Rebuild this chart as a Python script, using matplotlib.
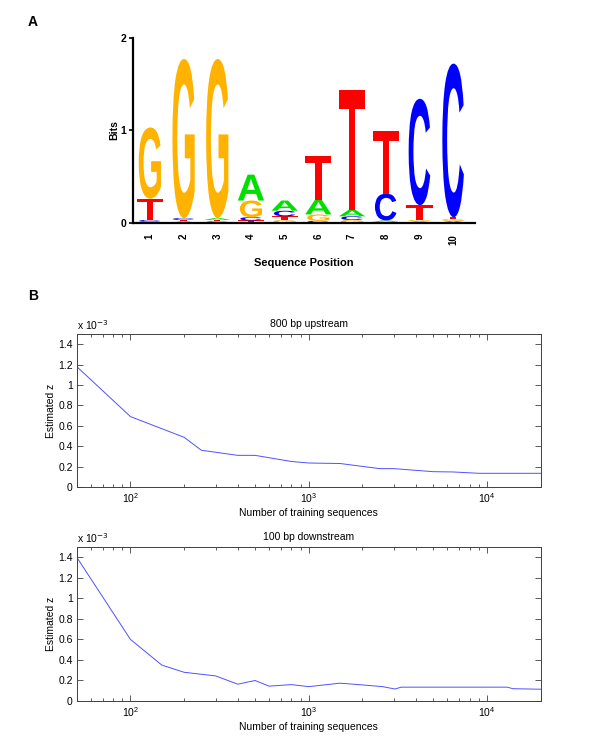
import numpy as np
import matplotlib
matplotlib.use('Agg')
import matplotlib.pyplot as plt
from matplotlib.textpath import TextPath
from matplotlib.patches import PathPatch
from matplotlib.font_manager import FontProperties
import matplotlib.transforms as mtransforms
from matplotlib.ticker import LogLocator, NullFormatter

plt.rcParams['font.family'] = ['Liberation Sans', 'DejaVu Sans']

# ---- sequence logo data (bits per letter, each position) ----
positions = np.arange(1, 11)
bits_A = [0.010, 0.015, 0.020, 0.280, 0.110, 0.160, 0.070, 0.015, 0.015, 0.020]
bits_C = [0.020, 0.020, 0.015, 0.035, 0.060, 0.020, 0.040, 0.290, 1.150, 1.660]
bits_G = [0.770, 1.720, 1.720, 0.180, 0.030, 0.070, 0.030, 0.010, 0.015, 0.020]
bits_T = [0.230, 0.015, 0.015, 0.025, 0.040, 0.470, 1.300, 0.680, 0.160, 0.020]

# ---- z estimates vs number of training sequences (x 1e-3) ----
up_n = [50, 100, 200, 250, 400, 500, 800, 1000, 1500, 2500, 3000, 4000, 5000, 6500, 9000, 20000]
up_z = [1.18, 0.69, 0.487, 0.36, 0.31, 0.31, 0.25, 0.235, 0.23, 0.18, 0.18, 0.163, 0.15, 0.147, 0.134, 0.134]

down_n = [50, 100, 150, 200, 300, 400, 500, 600, 800, 1000, 1500, 2000, 2600, 3050, 3300, 13000, 14000, 20000]
down_z = [1.40, 0.60, 0.35, 0.28, 0.245, 0.164, 0.20, 0.145, 0.16, 0.14, 0.174, 0.157, 0.14, 0.117, 0.135, 0.135, 0.12, 0.115]

colors = {'A': '#00e000', 'C': '#0000ff', 'G': '#ffb300', 'T': '#ff0000'}
widths = {'A': 0.78, 'C': 0.64, 'G': 0.66, 'T': 0.78}
fp = FontProperties(family='Liberation Sans', weight='bold')


def draw_letter(ax, ch, x, y, h):
    tp = TextPath((0, 0), ch, size=1, prop=fp)
    bb = tp.get_extents()
    w = widths[ch]
    tr = mtransforms.Affine2D().translate(-bb.x0, -bb.y0) \
        .scale(w / bb.width, h / bb.height).translate(x - w / 2, y)
    ax.add_patch(PathPatch(tr.transform_path(tp), fc=colors[ch], ec='none', lw=0))


fig = plt.figure(figsize=(6, 7.5), dpi=100)

# ===== A: logo =====
ax1 = fig.add_axes([0.2217, 0.703, 0.57, 0.2467])
for i, p in enumerate(positions):
    stack = sorted([('A', bits_A[i]), ('C', bits_C[i]), ('G', bits_G[i]), ('T', bits_T[i])],
                   key=lambda t: t[1])
    y0 = 0.0
    for ch, h in stack:
        draw_letter(ax1, ch, p, y0, h)
        y0 += h
ax1.set_xlim(0.5, 10.65)
ax1.set_ylim(0, 2)
ax1.set_yticks([0, 1, 2])
ax1.set_xticks(positions)
ax1.set_xticklabels([str(p) for p in positions], rotation=90, fontweight='bold', fontsize=7)
ax1.set_yticklabels(['0', '1', '2'], fontweight='bold', fontsize=7.5)
ax1.tick_params(axis='x', length=0, pad=8)
ax1.tick_params(axis='y', length=3, width=1.2, pad=2)
for s in ['top', 'right']:
    ax1.spines[s].set_visible(False)
for s in ['left', 'bottom']:
    ax1.spines[s].set_linewidth(1.6)
ax1.set_ylabel('Bits', fontweight='bold', fontsize=7.5, labelpad=1)
ax1.set_xlabel('Sequence Position', fontweight='bold', fontsize=8, labelpad=10)

fig.text(0.055, 0.971, 'A', fontweight='bold', fontsize=10, ha='center', va='center')
fig.text(0.055, 0.605, 'B', fontweight='bold', fontsize=10, ha='center', va='center')

# ===== B: two line plots =====
def line_panel(rect, n, z, title):
    ax = fig.add_axes(rect)
    ax.plot(n, z, color='#5050ff', lw=0.7)
    ax.set_xscale('log')
    ax.set_xlim(50, 20000)
    ax.set_ylim(0, 1.5)
    ax.set_yticks([0, 0.2, 0.4, 0.6, 0.8, 1.0, 1.2, 1.4])
    ax.set_yticklabels(['0', '0.2', '0.4', '0.6', '0.8', '1', '1.2', '1.4'])
    ax.xaxis.set_minor_locator(LogLocator(base=10, subs=np.arange(2, 10)))
    ax.xaxis.set_minor_formatter(NullFormatter())
    ax.tick_params(which='both', direction='in', top=True, right=True,
                   labelsize=7.5, color='#404040', width=0.6)
    ax.tick_params(which='major', length=4, pad=3)
    ax.tick_params(which='minor', length=2)
    for s in ax.spines.values():
        s.set_color('#404040')
        s.set_linewidth(0.7)
    ax.set_title(title, fontsize=7.5, pad=5)
    ax.set_ylabel('Estimated z', fontsize=7.5, labelpad=1.5)
    ax.set_xlabel('Number of training sequences', fontsize=7.5, labelpad=2)
    ax.text(0, 1.015, r'x 10$^{-3}$', transform=ax.transAxes, fontsize=7.5,
            ha='left', va='bottom')
    return ax

line_panel([0.128, 0.3507, 0.773, 0.204], up_n, up_z, '800 bp upstream')
line_panel([0.128, 0.0653, 0.773, 0.2053], down_n, down_z, '100 bp downstream')

fig.savefig('out.png', dpi=100)
